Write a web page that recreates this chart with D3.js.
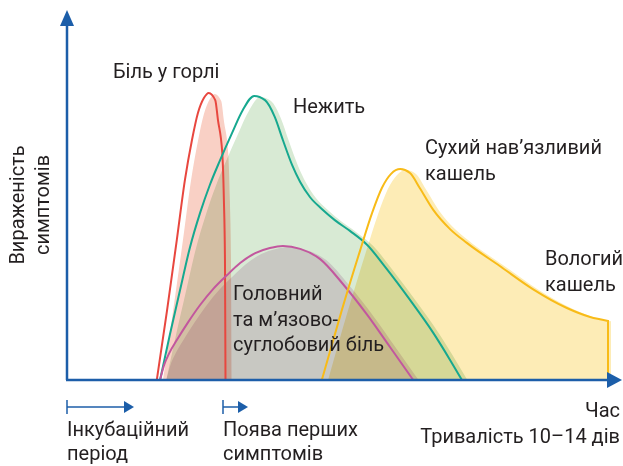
<!DOCTYPE html>
<html>
<head>
<meta charset="utf-8">
<script src="https://cdn.jsdelivr.net/npm/d3@7"></script>
<style>
body { margin: 0; background: #fff; }
text { font-family: Roboto, "Noto Sans", sans-serif; font-size: 20px; fill: #231f20; }
</style>
</head>
<body>
<div id="chart"></div>
<script>
// time (0-100) / severity (0-100)
var soreThroat = [[16.6,0],[18.5,23.3],[20.3,46.7],[21.8,66.7],[23.1,80],[24.2,89],[25.3,94],[26.2,95.7],[27.4,93.3],[27.9,86.7],[28.7,75.7],[29.0,60],[29.2,40],[29.3,0]];
var runnyNose = [[17.2,0],[19.0,15],[20.9,30],[22.7,44],[24.6,55.7],[26.4,65],[28.3,73.3],[30.5,82.3],[32.5,90],[34.6,94.7],[36.6,93.3],[38.4,87.7],[39.9,80],[41.6,71.7],[43.1,66],[44.9,61],[47.1,57],[49.5,53.3],[52.3,49.7],[55.5,45],[58.8,37.7],[63.4,26.7],[67.7,15.7],[70.8,6.7],[73.0,0]];
var headache = [[17.2,0],[17.9,4.7],[19.0,9.3],[20.3,13.3],[22.4,19.3],[24.6,25],[27.0,30.3],[29.6,35],[32.0,39],[34.8,42.3],[37.5,44],[39.9,44.7],[43.1,43.7],[46.8,40.3],[51.0,32],[55.5,21.7],[59.7,11],[64.0,0]];
var cough = [[47.1,0],[50.8,23.3],[54.2,43.3],[56.4,55.7],[58.2,64],[59.9,68.7],[61.6,70.3],[63.4,69],[65.2,64],[67.7,56.7],[70.8,50.3],[73.9,45.7],[80.0,38],[86.1,30.3],[92.4,24],[96.7,21],[100,19.7]];

var w = 623, h = 466;

var svg = d3.select("#chart")
			.append("svg")
			.attr("width", w)
			.attr("height", h);

var x = d3.scaleLinear().domain([0, 100]).range([67, 608]);
var y = d3.scaleLinear().domain([0, 100]).range([380, 80]);

var series = [
	{ pts: soreThroat, stroke: "#e8473f", fill: "#f9d0c5", drop: false },
	{ pts: runnyNose, stroke: "#16a88f", fill: "#d8ead4", drop: false },
	{ pts: headache, stroke: "#c2579e", fill: "#ecdaea", drop: false },
	{ pts: cough, stroke: "#f8bb18", fill: "#fdecb6", drop: true }
];

var line = d3.line()
			.x(function(d) { return x(d[0]); })
			.y(function(d) { return y(d[1]); })
			.curve(d3.curveMonotoneX);

function pathFor(s) {
	var p = line(s.pts);
	if (s.drop) p += "V" + y(0);
	return p;
}

svg.append("clipPath").attr("id", "clip")
	.append("rect").attr("x", x(0)).attr("y", 0).attr("width", 611 - x(0)).attr("height", y(0));

// shaded areas, shifted a bit to the right of the outline
var fills = svg.append("g").attr("clip-path", "url(#clip)");
series.forEach(function(s) {
	fills.append("path")
		.attr("d", pathFor(s) + "Z")
		.attr("transform", "translate(6,1)")
		.style("fill", s.fill)
		.style("mix-blend-mode", "multiply");
});

series.forEach(function(s) {
	svg.append("path")
		.attr("d", pathFor(s))
		.style("fill", "none")
		.style("stroke", s.stroke)
		.style("stroke-width", 2);
});

// axes
var blue = "#1c5ea9";
svg.append("line").attr("x1", x(0)).attr("y1", y(0)).attr("x2", x(0)).attr("y2", 24)
	.style("stroke", blue).style("stroke-width", 2.5);
svg.append("path").attr("d", "M" + (x(0) - 7) + ",26L" + x(0) + ",10L" + (x(0) + 7) + ",26Z").style("fill", blue);
svg.append("line").attr("x1", x(0) - 1).attr("y1", y(0)).attr("x2", 609).attr("y2", y(0))
	.style("stroke", blue).style("stroke-width", 2.5);
svg.append("path").attr("d", "M607," + (y(0) - 8) + "L622," + y(0) + "L607," + (y(0) + 8) + "Z").style("fill", blue);

// period arrows under the axis
function periodArrow(x0, x1) {
	svg.append("line").attr("x1", x0).attr("y1", 400).attr("x2", x0).attr("y2", 414)
		.style("stroke", blue).style("stroke-width", 1.5);
	svg.append("line").attr("x1", x0).attr("y1", 407).attr("x2", x1 - 8).attr("y2", 407)
		.style("stroke", blue).style("stroke-width", 1.5);
	svg.append("path").attr("d", "M" + (x1 - 10) + ",401L" + x1 + ",407L" + (x1 - 10) + ",413Z").style("fill", blue);
}
periodArrow(x(0), 134);
periodArrow(223, 248);

// labels
function label(lines, tx, ty, anchor, lh) {
	var t = svg.append("text").attr("x", tx).attr("y", ty).style("text-anchor", anchor || "start");
	lines.forEach(function(l, i) {
		t.append("tspan").attr("x", tx).attr("dy", i ? (lh || 25.5) : 0).text(l);
	});
}
label(["Біль у горлі"], 113, 78);
label(["Нежить"], 293, 113);
label(["Сухий навʼязливий", "кашель"], 425, 154);
label(["Вологий", "кашель"], 545, 265);
label(["Головний", "та мʼязово-", "суглобовий біль"], 233, 300);
label(["Час", "Тривалість 10–14 дів"], 620, 417, "end");
label(["Інкубаційний", "період"], 67, 436, "start", 24);
label(["Поява перших", "симптомів"], 223, 436, "start", 24);

var yl = svg.append("text").attr("transform", "translate(24,205) rotate(-90)").style("text-anchor", "middle");
yl.append("tspan").attr("x", 0).attr("dy", 0).text("Вираженість");
yl.append("tspan").attr("x", 0).attr("dy", 25).text("симптомів");
</script>
</body>
</html>
